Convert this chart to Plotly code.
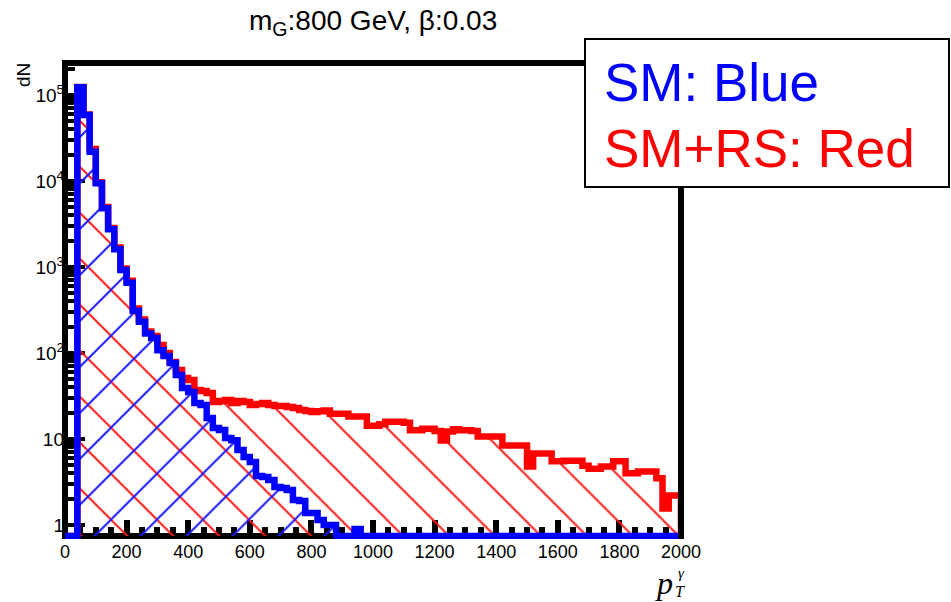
import plotly.graph_objects as go

# ---------------- data ----------------
bin_edges = list(range(0, 2001, 20))          # p_T bins (GeV), 100 bins of 20 GeV

sm_counts = [                                  # SM (blue)
    0, 0, 123000, 58500, 21900, 9400, 4820, 2740, 1610, 923,
    657, 310, 231, 169, 149, 108, 92, 76.5, 55.5, 39.2,
    35.2, 26.2, 24.9, 17.5, 13.4, 12.7, 10.3, 9.7, 7.45, 6.18,
    5.40, 3.71, 3.61, 3.34, 2.77, 2.69, 2.55, 1.95, 1.90, 1.38,
    1.38, 1.14, 1.0, 1.0, 0, 0, 0, 0.9, 0, 0,
    0, 0, 0, 0, 0, 0, 0, 0, 0, 0,
    0, 0, 0, 0, 0, 0, 0, 0, 0, 0,
    0, 0, 0, 0, 0, 0, 0, 0, 0, 0,
    0, 0, 0, 0, 0, 0, 0, 0, 0, 0,
    0, 0, 0, 0, 0, 0, 0, 0, 0, 0,
]

smrs_counts = [                                # SM+RS (red)
    0, 0, 124000, 59500, 23500, 9700, 5000, 2850, 1680, 960,
    690, 330, 245, 178, 158, 124, 100, 78.6, 63.5, 51.2,
    48.5, 37.1, 36.2, 34.3, 26.9, 27.7, 28.4, 26.2, 27.7, 26.9,
    24.9, 25.5, 26.2, 24.9, 24.2, 24.2, 23.6, 22.9, 21.7, 21.2,
    20.6, 21.0, 21.4, 19.7, 19.7, 19.7, 18.3, 18.3, 18.3, 14.3,
    14.3, 14.8, 15.9, 15.9, 15.9, 15.4, 12.6, 12.6, 13.2, 13.2,
    12.4, 9.6, 12.2, 13.0, 12.6, 12.6, 12.4, 10.7, 10.7, 10.7,
    10.7, 8.4, 8.4, 8.4, 8.4, 4.8, 6.8, 6.8, 6.8, 5.5,
    5.5, 5.6, 5.6, 5.6, 4.9, 4.5, 4.5, 4.8, 4.8, 5.5,
    5.5, 4.0, 4.0, 4.2, 4.2, 4.2, 3.5, 1.56, 2.2, 2.2,
]

x_tick_vals = [0, 200, 400, 600, 800, 1000, 1200, 1400, 1600, 1800, 2000]
y_tick_vals = [1, 10, 100, 1000, 10000, 100000]
y_tick_text = ["1", "10", "10<sup>2</sup>", "10<sup>3</sup>", "10<sup>4</sup>", "10<sup>5</sup>"]
title_text = "m<sub>G</sub>:800 GeV, β:0.03"
legend_lines = ["SM: Blue", "SM+RS: Red"]
y_title = "dN"

# ---------------- layout geometry (pixels) ----------------
W, H = 951, 602
L, R, T, B = 65, 681, 60, 539
Y_LOG_RANGE = [-0.1628, 5.407]
FLOOR = 0.745          # empty bins are drawn on the frame bottom (ROOT style)
SANS = "Liberation Sans, Arial, sans-serif"
SERIF = "Liberation Serif, Times New Roman, serif"


def px(x):
    return (x - L) / (R - L)


def py(y):
    return (B - y) / (B - T)


def step_path(edges, counts, floor):
    xs, ys = [edges[0]], [floor]
    for i, c in enumerate(counts):
        xs.append(edges[i])
        ys.append(max(c, floor))
    xs.append(edges[-1])
    ys.append(max(counts[-1], floor))
    xs.append(edges[-1])
    ys.append(floor)
    return xs, ys


fig = go.Figure()

rx, ry = step_path(bin_edges, smrs_counts, FLOOR)
fig.add_trace(go.Scatter(
    x=rx, y=ry, mode="lines",
    line=dict(color="#ff0000", width=6.5, shape="hv"),
    fill="toself", fillcolor="rgba(0,0,0,0)",
    fillpattern=dict(shape="\\", size=32.5, solidity=0.06, fgopacity=1,
                     fgcolor="#ff1a1a", bgcolor="rgba(0,0,0,0)"),
    hoverinfo="skip", showlegend=False,
))

bx, by = step_path(bin_edges, sm_counts, FLOOR)
fig.add_trace(go.Scatter(
    x=bx, y=by, mode="lines",
    line=dict(color="#0000ff", width=6.5, shape="hv"),
    fill="toself", fillcolor="rgba(0,0,0,0)",
    fillpattern=dict(shape="/", size=32.5, solidity=0.06, fgopacity=1,
                     fgcolor="#1a1aff", bgcolor="rgba(0,0,0,0)"),
    hoverinfo="skip", showlegend=False,
))

minor_y = [d * 10 ** e for e in range(0, 6) for d in range(2, 10)]

fig.update_layout(
    width=W, height=H,
    margin=dict(l=L, r=W - R, t=T, b=H - B, pad=0),
    paper_bgcolor="white", plot_bgcolor="white",
    showlegend=False,
    font=dict(family=SANS, color="black"),
    xaxis=dict(
        range=[0, 2000], tickmode="array", tickvals=x_tick_vals,
        ticks="inside", ticklen=19, tickwidth=6, tickcolor="black",
        showline=False, showgrid=False, zeroline=False, layer="below traces",
        tickfont=dict(size=18, family=SANS, color="black"),
        minor=dict(ticks="inside", ticklen=12, tickwidth=6, tickcolor="black",
                   tickmode="linear", tick0=0, dtick=50, showgrid=False),
    ),
    yaxis=dict(
        type="log", range=Y_LOG_RANGE, tickmode="array",
        tickvals=y_tick_vals, ticktext=y_tick_text,
        ticks="inside", ticklen=20, tickwidth=4, tickcolor="black",
        showline=False, showgrid=False, zeroline=False, layer="below traces",
        tickfont=dict(size=19, family=SANS, color="black"),
        minor=dict(ticks="inside", ticklen=10, tickwidth=4, tickcolor="black",
                   tickmode="array", tickvals=minor_y, showgrid=False),
    ),
    shapes=[
        dict(type="rect", xref="paper", yref="paper",
             x0=px(65), x1=px(681), y0=py(536), y1=py(63),
             line=dict(color="black", width=6), layer="below"),
        dict(type="line", xref="paper", yref="paper",
             x0=px(681), x1=px(681), y0=py(539), y1=py(60),
             line=dict(color="black", width=6), layer="above"),
        dict(type="rect", xref="paper", yref="paper",
             x0=px(585), x1=px(949), y0=py(187), y1=py(39),
             line=dict(color="black", width=2), fillcolor="white", layer="above"),
    ],
    annotations=[
        dict(text=title_text, x=px(373), y=py(23), xref="paper", yref="paper",
             xanchor="center", yanchor="middle", showarrow=False,
             font=dict(size=28, family=SANS, color="black")),
        dict(text=y_title, x=px(24), y=py(75), xref="paper", yref="paper",
             xanchor="center", yanchor="middle", showarrow=False, textangle=-90,
             font=dict(size=19, family=SANS, color="black")),
        dict(text=legend_lines[0], x=px(602), y=py(83), xref="paper", yref="paper",
             xanchor="left", yanchor="middle", showarrow=False,
             font=dict(size=53, family=SANS, color="#0000ff")),
        dict(text=legend_lines[1], x=px(602), y=py(148), xref="paper", yref="paper",
             xanchor="left", yanchor="middle", showarrow=False,
             font=dict(size=53, family=SANS, color="#ff0000")),
        dict(text="<i>p</i>", x=px(664), y=py(583), xref="paper", yref="paper",
             xanchor="center", yanchor="middle", showarrow=False,
             font=dict(size=32, family=SERIF, color="black")),
        dict(text="<i>T</i>", x=px(680), y=py(591), xref="paper", yref="paper",
             xanchor="center", yanchor="middle", showarrow=False,
             font=dict(size=16, family=SERIF, color="black")),
        dict(text="<i>γ</i>", x=px(681), y=py(573), xref="paper", yref="paper",
             xanchor="center", yanchor="middle", showarrow=False,
             font=dict(size=15, family=SERIF, color="black")),
    ],
)

fig.write_html("out.html")
